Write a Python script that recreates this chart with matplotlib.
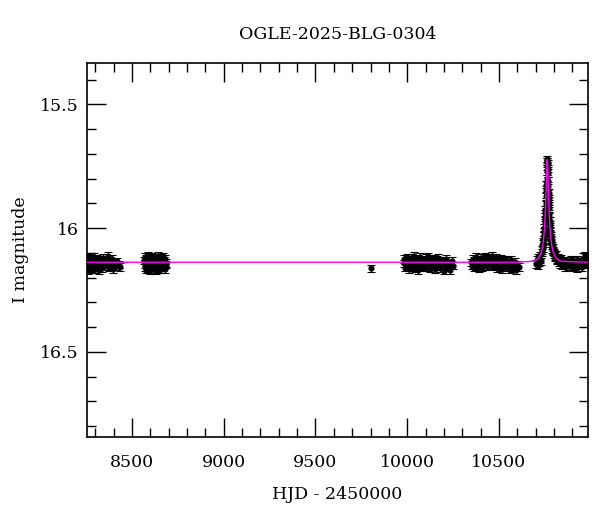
import matplotlib.pyplot as plt
from matplotlib.ticker import MultipleLocator

# season 1
t1 = [8257, 8260, 8263, 8265, 8268, 8271, 8274, 8276, 8279, 8282,
      8285, 8288, 8291, 8294, 8297, 8300, 8303, 8306, 8309, 8312,
      8316, 8320, 8324, 8328, 8332, 8336, 8340, 8345, 8350, 8356,
      8362, 8368, 8374, 8380, 8386, 8392, 8398, 8405, 8412, 8420,
      8428, 8436]
m1 = [16.152, 16.128, 16.171, 16.140, 16.118, 16.160, 16.135, 16.149, 16.125, 16.168,
      16.142, 16.130, 16.157, 16.115, 16.146, 16.165, 16.133, 16.150, 16.122, 16.158,
      16.139, 16.170, 16.127, 16.148, 16.136, 16.162, 16.120, 16.145, 16.155, 16.131,
      16.147, 16.112, 16.160, 16.138, 16.150, 16.125, 16.166, 16.142, 16.153, 16.135,
      16.148, 16.158]

# season 2
t2 = [8567, 8569, 8571, 8573, 8576, 8578, 8580, 8583, 8585, 8587,
      8590, 8592, 8595, 8597, 8599, 8602, 8604, 8606, 8609, 8611,
      8614, 8616, 8618, 8621, 8623, 8626, 8628, 8630, 8633, 8635,
      8638, 8640, 8642, 8645, 8647, 8650, 8652, 8655, 8657, 8660,
      8662, 8665, 8667, 8670, 8673, 8676, 8679, 8682, 8685, 8688]
m2 = [16.130, 16.158, 16.117, 16.145, 16.168, 16.124, 16.151, 16.139, 16.112, 16.163,
      16.134, 16.155, 16.121, 16.147, 16.170, 16.128, 16.142, 16.160, 16.115, 16.137,
      16.153, 16.126, 16.166, 16.141, 16.119, 16.149, 16.132, 16.172, 16.127, 16.156,
      16.138, 16.113, 16.161, 16.144, 16.129, 16.152, 16.118, 16.165, 16.136, 16.146,
      16.123, 16.159, 16.140, 16.114, 16.150, 16.133, 16.167, 16.125, 16.148, 16.141]

# lone point
t_single = [9802]
m_single = [16.163]

# season 3
t3 = [9980, 9984, 9988, 9992, 9996, 10000, 10004, 10008, 10012, 10016,
      10020, 10024, 10028, 10032, 10036, 10040, 10044, 10048, 10052, 10056,
      10060, 10064, 10068, 10072, 10076, 10080, 10084, 10088, 10092, 10096,
      10100, 10104, 10108, 10112, 10116, 10120, 10124, 10128, 10132, 10136,
      10140, 10144, 10148, 10152, 10156, 10160, 10165, 10170, 10175, 10180,
      10186, 10192, 10198, 10204, 10210, 10218, 10226, 10234, 10242, 10252]
m3 = [16.142, 16.125, 16.160, 16.135, 16.118, 16.152, 16.139, 16.166, 16.128, 16.147,
      16.120, 16.158, 16.133, 16.145, 16.113, 16.162, 16.137, 16.150, 16.124, 16.141,
      16.169, 16.131, 16.154, 16.117, 16.146, 16.138, 16.160, 16.126, 16.149, 16.134,
      16.121, 16.157, 16.143, 16.115, 16.151, 16.136, 16.164, 16.129, 16.148, 16.140,
      16.122, 16.155, 16.132, 16.167, 16.144, 16.127, 16.153, 16.119, 16.139, 16.161,
      16.130, 16.150, 16.172, 16.136, 16.124, 16.158, 16.145, 16.170, 16.133, 16.152]

# season 4
t4 = [10350, 10354, 10358, 10362, 10366, 10370, 10374, 10378, 10382, 10386,
      10390, 10394, 10398, 10402, 10406, 10410, 10414, 10418, 10422, 10426,
      10430, 10434, 10438, 10442, 10446, 10450, 10454, 10458, 10462, 10466,
      10470, 10474, 10478, 10482, 10486, 10490, 10494, 10498, 10502, 10506,
      10510, 10514, 10518, 10522, 10526, 10530, 10534, 10538, 10542, 10546,
      10550, 10555, 10560, 10566, 10572, 10578, 10585, 10592, 10600, 10610]
m4 = [16.138, 16.152, 16.124, 16.160, 16.131, 16.145, 16.117, 16.156, 16.140, 16.128,
      16.163, 16.135, 16.149, 16.121, 16.142, 16.158, 16.130, 16.147, 16.114, 16.137,
      16.153, 16.126, 16.144, 16.118, 16.132, 16.150, 16.122, 16.139, 16.112, 16.146,
      16.128, 16.155, 16.134, 16.119, 16.143, 16.161, 16.127, 16.148, 16.136, 16.157,
      16.123, 16.141, 16.165, 16.131, 16.150, 16.138, 16.126, 16.159, 16.144, 16.133,
      16.152, 16.140, 16.168, 16.129, 16.146, 16.162, 16.137, 16.171, 16.150, 16.158]

# season 5 (the event)
t5 = [10702, 10706, 10710, 10714, 10718, 10722, 10726, 10729, 10732, 10735,
      10738, 10740, 10742, 10743, 10744, 10745, 10746, 10747, 10748, 10749,
      10750, 10751, 10752, 10753, 10754, 10755, 10756, 10757, 10758, 10759,
      10760, 10761, 10762, 10763, 10764, 10765, 10766, 10767, 10768, 10769,
      10770, 10771, 10772, 10773, 10774, 10775, 10776, 10777, 10778, 10779,
      10780, 10781, 10782, 10783, 10784, 10786, 10788, 10790, 10792, 10794,
      10796, 10798, 10801, 10804, 10807, 10810, 10814, 10818, 10822, 10826,
      10830, 10835, 10840, 10845, 10850, 10855, 10860, 10866, 10872, 10878,
      10884, 10890, 10896, 10902, 10908, 10914, 10920, 10926, 10932, 10938,
      10944, 10950, 10956, 10962, 10968, 10974, 10980]
m5 = [16.145, 16.128, 16.152, 16.118, 16.140, 16.125, 16.110, 16.135, 16.098, 16.088,
      16.080, 16.055, 16.062, 16.030, 16.045, 16.015, 16.028, 16.000, 16.012, 15.980,
      15.968, 15.955, 15.940, 15.925, 15.905, 15.895, 15.870, 15.845, 15.825, 15.800,
      15.770, 15.750, 15.732, 15.722, 15.730, 15.738, 15.760, 15.778, 15.808, 15.830,
      15.858, 15.880, 15.900, 15.920, 15.942, 15.955, 15.972, 15.985, 15.995, 16.010,
      16.022, 16.030, 16.038, 16.050, 16.045, 16.062, 16.070, 16.085, 16.078, 16.095,
      16.090, 16.105, 16.098, 16.112, 16.120, 16.108, 16.125, 16.132, 16.118, 16.140,
      16.128, 16.145, 16.122, 16.150, 16.135, 16.142, 16.158, 16.130, 16.148, 16.138,
      16.155, 16.127, 16.146, 16.160, 16.133, 16.150, 16.141, 16.163, 16.129, 16.152,
      16.137, 16.158, 16.144, 16.132, 16.110, 16.121, 16.148]

mag_err = 0.015

# model curve
model_t = [8255, 10600, 10663, 10693, 10713, 10723, 10733, 10738, 10743, 10748,
           10751, 10754, 10757, 10760, 10761.5, 10763, 10764.5, 10766, 10769, 10772,
           10775, 10778, 10783, 10788, 10793, 10803, 10813, 10833, 10863, 10985]
model_m = [16.138, 16.138, 16.135, 16.133, 16.123, 16.111, 16.090, 16.072, 16.044, 16.000,
           15.962, 15.909, 15.839, 15.762, 15.734, 15.723, 15.734, 15.762, 15.839, 15.909,
           15.962, 16.000, 16.044, 16.072, 16.090, 16.111, 16.123, 16.133, 16.135, 16.138]

plt.rcParams['font.family'] = ['DejaVu Serif']
plt.rcParams['font.size'] = 12.5

fig, ax = plt.subplots(figsize=(6, 5.12), dpi=100)
fig.subplots_adjust(left=0.145, right=0.98, top=0.877, bottom=0.146)

for t, m in [(t1, m1), (t2, m2), (t_single, m_single), (t3, m3), (t4, m4), (t5, m5)]:
    ax.errorbar(t, m, yerr=mag_err, fmt='o', color='k', ms=3.4, elinewidth=0.8,
                capsize=3, capthick=0.8, zorder=2)

ax.plot(model_t, model_m, color='#ff00ff', lw=1.0, zorder=3)

ax.set_xlim(8255, 10985)
ax.set_ylim(16.845, 15.333)
ax.xaxis.set_major_locator(MultipleLocator(500))
ax.xaxis.set_minor_locator(MultipleLocator(100))
ax.yaxis.set_major_locator(MultipleLocator(0.5))
ax.yaxis.set_minor_locator(MultipleLocator(0.1))
ax.yaxis.set_major_formatter(plt.FuncFormatter(lambda v, p: '%g' % v))
ax.tick_params(which='both', direction='in', top=True, right=True, width=1)
ax.tick_params(which='major', length=14)
ax.tick_params(axis='x', which='major', pad=12)
ax.tick_params(axis='y', which='major', pad=6)
ax.tick_params(which='minor', length=6.5)
for s in ax.spines.values():
    s.set_linewidth(1.2)

ax.set_title('OGLE-2025-BLG-0304', fontsize=12.5, pad=17)
ax.set_xlabel('HJD - 2450000', labelpad=11)
ax.set_ylabel('I magnitude', labelpad=8)

plt.savefig('out.png')
